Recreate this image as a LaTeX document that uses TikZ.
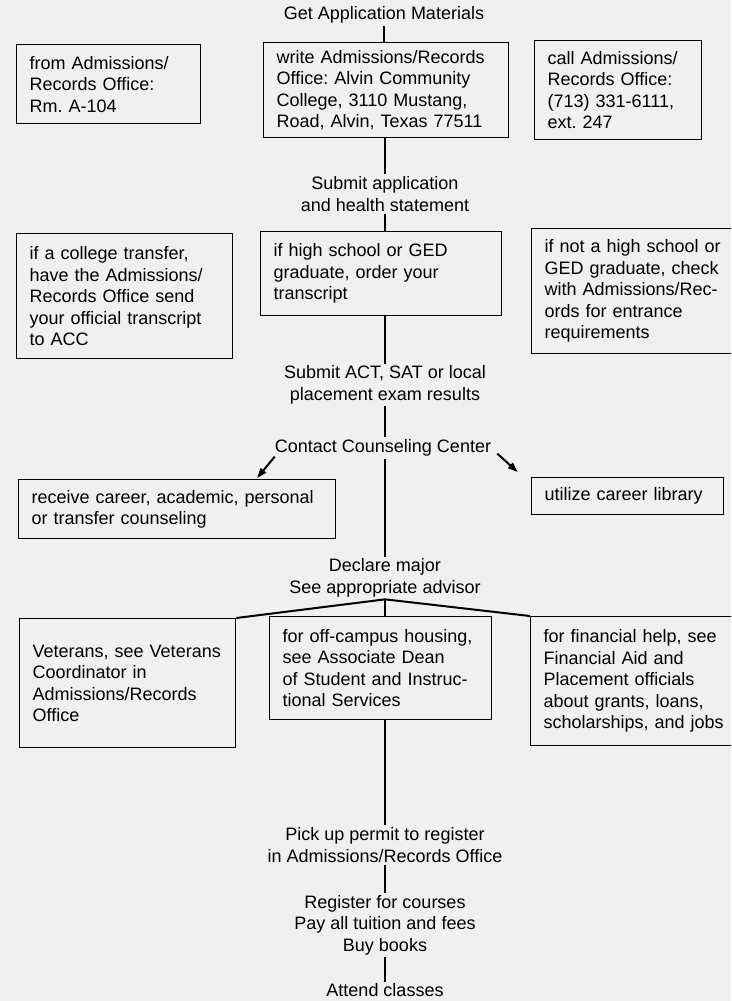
\documentclass[tikz,border=0pt]{standalone}
\usepackage{fontspec}
\setmainfont{Liberation Sans}
\usetikzlibrary{arrows.meta}
\frenchspacing

\begin{document}
\begin{tikzpicture}[
    x=1pt, y=-1pt,
    txt/.style={align=center, inner sep=2pt, font=\fontsize{18pt}{21.5pt}\selectfont},
    box/.style={draw, line width=1.3pt, anchor=north west, align=left, inner xsep=13pt, inner ysep=2pt, font=\fontsize{18pt}{21.5pt}\selectfont},
    link/.style={line width=2pt},
    arr/.style={-{Triangle[length=10pt,width=7pt]}, line width=2pt}
  ]
  \useasboundingbox (0,0) rectangle (731,1001);
  \fill[black!6] (0,0) rectangle (731,1001);
  \clip (0,0) rectangle (731,1001);

  % main steps down the middle
  \node[txt] (get) at (384,15) {Get Application Materials};
  \node[txt] (submit) at (385,194) {Submit application\\and health statement};
  \node[txt] (exam) at (385,385) {Submit ACT, SAT or local\\placement exam results};
  \node[txt] (contact) at (383,448) {Contact Counseling Center};
  \node[txt] (declare) at (385,578) {Declare major\\See appropriate advisor};
  \node[txt] (permit) at (385,845) {Pick up permit to register\\in Admissions/Records Office};
  \node[txt] (register) at (385,925) {Register for courses\\Pay all tuition and fees\\Buy books};
  \node[txt, inner sep=1pt] (attend) at (385,990) {Attend classes};

  % boxes
  \node[box, text width=158pt, minimum height=79pt] (from) at (16,44) {from Admissions/\\Records Office:\\Rm. A-104};
  \node[box, text width=219pt, minimum height=95pt] (write) at (263,42) {write Admissions/Records\\Office: Alvin Community\\College, 3110 Mustang,\\Road, Alvin, Texas 77511};
  \node[box, text width=141pt, minimum height=99pt] (call) at (534,40) {call Admissions/\\Records Office:\\(713) 331-6111,\\ext. 247};
  \node[box, text width=190pt, minimum height=125pt] (transfer) at (16,233) {if a college transfer,\\have the Admissions/\\Records Office send\\your official transcript\\to ACC};
  \node[box, text width=215pt, minimum height=84pt] (order) at (260,231) {if high school or GED\\graduate, order your\\transcript};
  \node[box, text width=188pt, minimum height=125pt] (notgrad) at (531,228) {if not a high school or\\GED graduate, check\\with Admissions/Rec-\\ords for entrance\\requirements};
  \node[box, text width=291pt, minimum height=59pt] (counsel) at (18,479) {receive career, academic, personal\\or transfer counseling};
  \node[box, text width=166pt, minimum height=37pt] (library) at (531,477) {utilize career library};
  \node[box, text width=190pt, minimum height=129pt] (veterans) at (19,618) {Veterans, see Veterans\\Coordinator in\\Admissions/Records\\Office};
  \node[box, text width=196pt, minimum height=103pt] (housing) at (269,616) {for off-campus housing,\\see Associate Dean\\of Student and Instruc-\\tional Services};
  \node[box, text width=189pt, minimum height=129pt] (finance) at (530,616) {for financial help, see\\Financial Aid and\\Placement officials\\about grants, loans,\\scholarships, and jobs};

  % connectors
  \draw[link] (get.south) -- (get.south |- write.north);
  \draw[link] (write.south -| submit.north) -- (submit.north);
  \draw[link] (submit.south) -- (submit.south |- order.north);
  \draw[link] (order.south -| exam.north) -- (exam.north);
  \draw[link] (exam.south) -- (exam.south |- contact.north);
  \draw[link] (contact.south -| declare.north) -- (declare.north);
  \draw[arr] ([xshift=2pt,yshift=2pt]contact.south west) -- ([xshift=80pt,yshift=1pt]counsel.north);
  \draw[arr] ([xshift=4pt,yshift=5pt]contact.south east) -- ([xshift=-110pt,yshift=5pt]library.north);
  \draw[link] (declare.south) -- (veterans.north east);
  \draw[link] (declare.south) -- (declare.south |- housing.north);
  \draw[link] (declare.south) -- (finance.north west);
  \draw[link] (housing.south -| permit.north) -- (permit.north);
  \draw[link] (permit) -- (register);
  \draw[link] (register) -- (attend);
\end{tikzpicture}
\end{document}
